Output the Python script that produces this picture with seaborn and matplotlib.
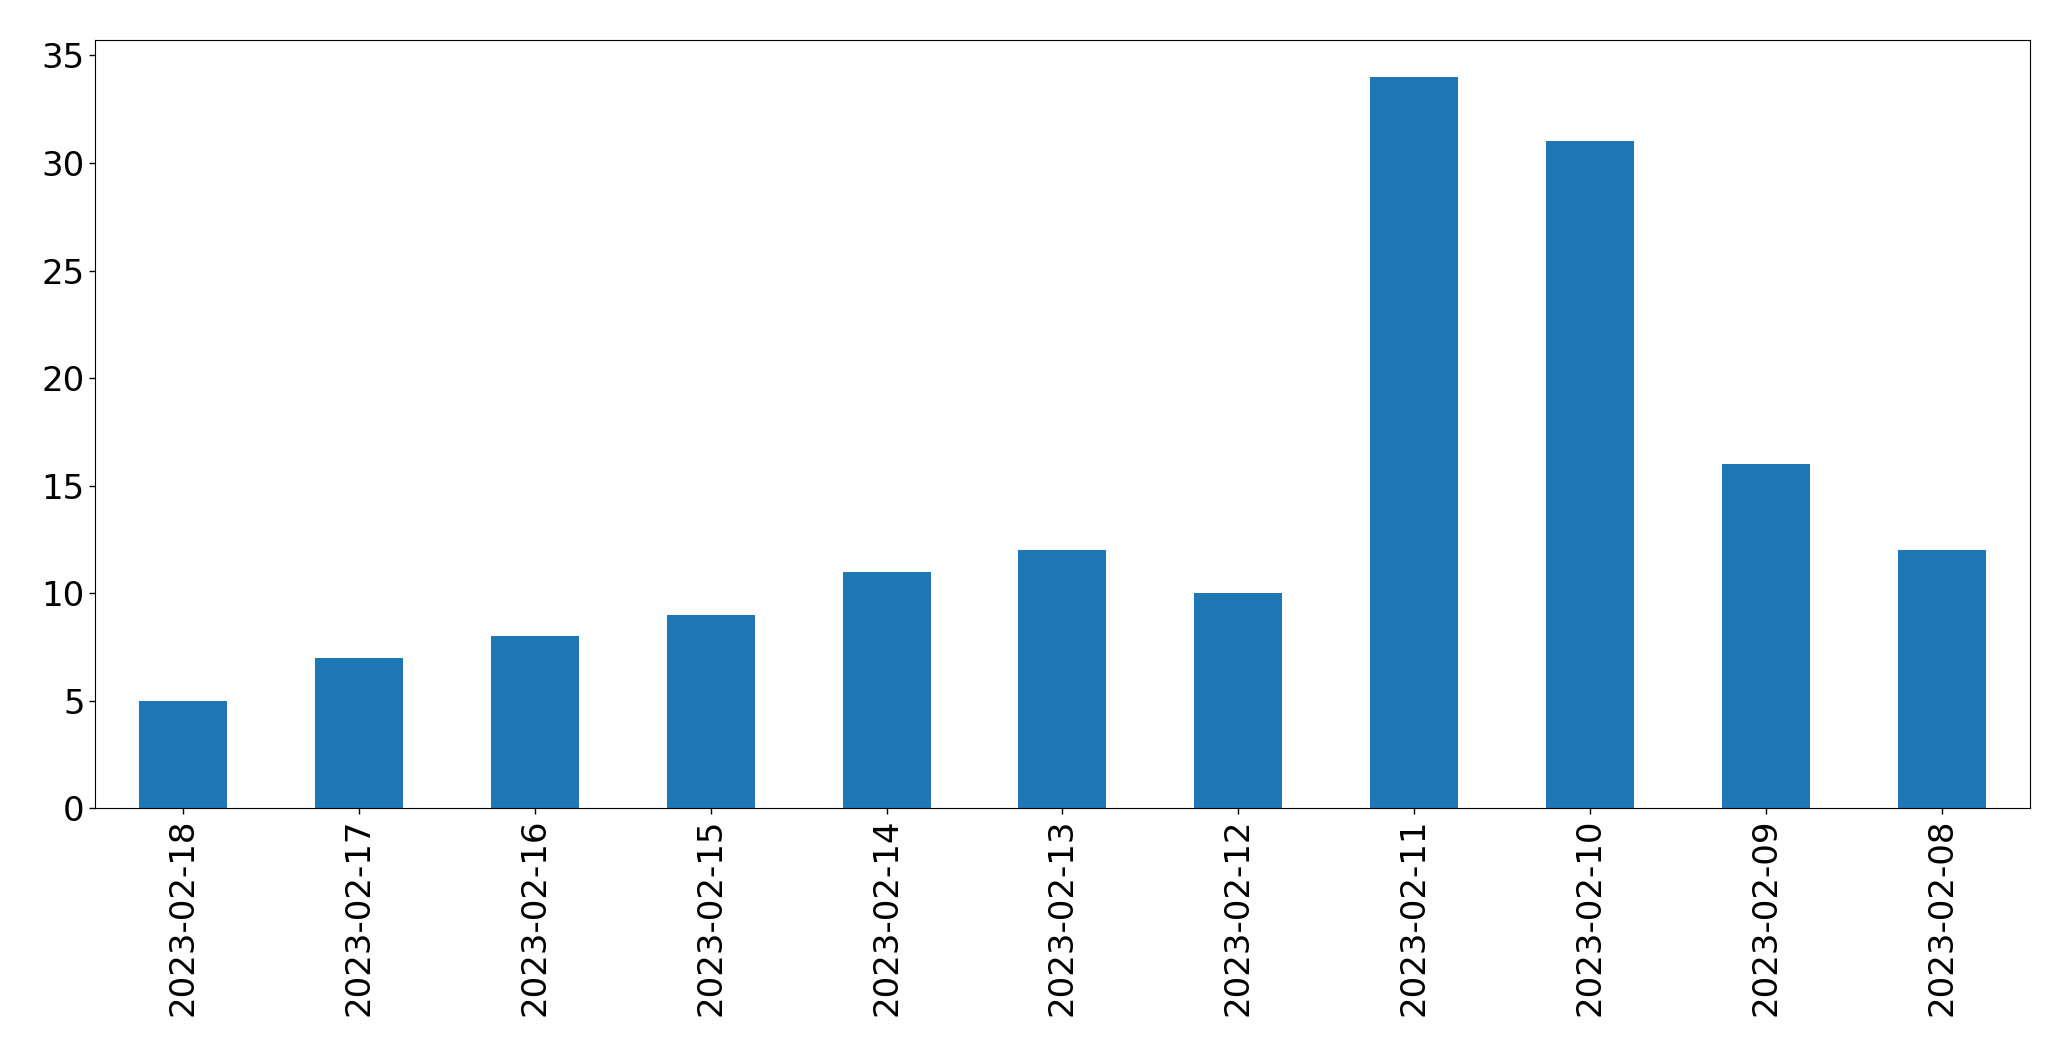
import numpy as np
import pandas as pd
import matplotlib
matplotlib.use("Agg")
import matplotlib.pyplot as plt
import seaborn as sns

# daily counts, newest first
dates = ['2023-02-18', '2023-02-17', '2023-02-16', '2023-02-15', '2023-02-14',
         '2023-02-13', '2023-02-12', '2023-02-11', '2023-02-10', '2023-02-09',
         '2023-02-08']
counts = [5, 7, 8, 9, 11, 12, 10, 34, 31, 16, 12]

df = pd.DataFrame({'date': dates, 'count': counts})

sns.set_style("white")
plt.rcParams['font.family'] = ['DejaVu Sans']
plt.rcParams['text.color'] = 'black'
plt.rcParams['xtick.color'] = 'black'
plt.rcParams['ytick.color'] = 'black'

fig, ax = plt.subplots(figsize=(20.71, 10.61), dpi=100)
sns.barplot(data=df, x='date', y='count', color='#1f77b4', saturation=1,
            width=0.5, linewidth=0, ax=ax)
ax.set_xlim(-0.5, len(dates) - 0.5)
ax.set_ylim(0, max(counts) * 1.05)
ax.set_xlabel('')
ax.set_ylabel('')
ax.tick_params(axis='both', labelsize=24.5, length=4, width=1, direction='out',
               bottom=True, left=True, colors='black', labelcolor='black')
plt.setp(ax.get_xticklabels(), rotation=90)
for s in ax.spines.values():
    s.set_visible(True)
    s.set_color('black')
    s.set_linewidth(0.8)

fig.subplots_adjust(left=0.046, right=0.98, top=0.962, bottom=0.238)
fig.savefig('out.png')
